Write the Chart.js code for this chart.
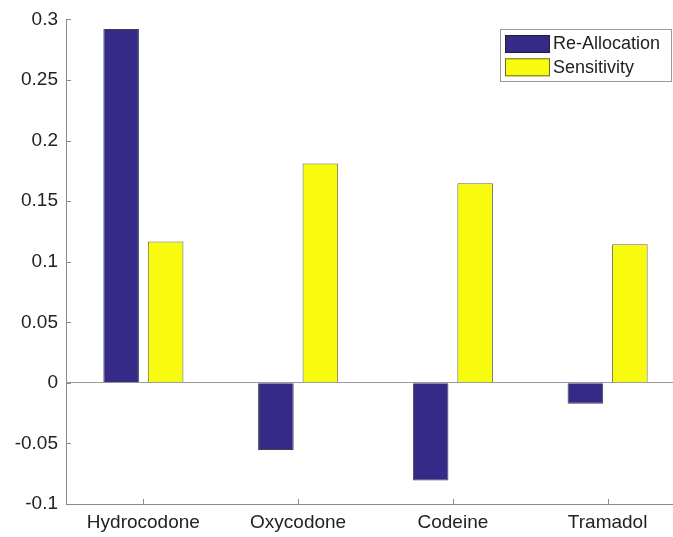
<!DOCTYPE html>
<html>
<head>
<meta charset="utf-8">
<script src="https://cdn.jsdelivr.net/npm/chart.js@4.4.0/dist/chart.umd.min.js"></script>
<style>
  html, body { margin: 0; padding: 0; overflow: hidden; background: #fff; }
  canvas { display: block; }
</style>
</head>
<body>
<canvas id="barChart" width="700" height="537" style="width:700px;height:537px"></canvas>
<script>
// data
const categories = ['Hydrocodone', 'Oxycodone', 'Codeine', 'Tramadol'];
const reAllocation = [0.292, -0.0555, -0.0805, -0.0172];
const sensitivity = [0.1167, 0.181, 0.1648, 0.1145];
const seriesNames = ['Re-Allocation', 'Sensitivity'];
const yTicks = [-0.1, -0.05, 0, 0.05, 0.1, 0.15, 0.2, 0.25, 0.3];

const axisColor = '#8a8a8a';
const fontFamily = '"Liberation Sans", Arial, Helvetica, sans-serif';

// MATLAB style ticks pointing into the plot
const inwardTicks = {
    id: 'inwardTicks',
    afterDatasetsDraw(chart) {
        const { ctx, chartArea, scales: { x, y } } = chart;
        ctx.save();
        ctx.strokeStyle = axisColor;
        ctx.lineWidth = 1;
        ctx.beginPath();
        y.ticks.forEach((t, i) => {
            const py = Math.round(y.getPixelForTick(i)) + 0.5;
            ctx.moveTo(chartArea.left, py);
            ctx.lineTo(chartArea.left + 5, py);
        });
        x.ticks.forEach((t, i) => {
            const px = Math.round(x.getPixelForTick(i)) + 0.5;
            ctx.moveTo(px, chartArea.bottom);
            ctx.lineTo(px, chartArea.bottom - 5);
        });
        ctx.stroke();
        ctx.restore();
    }
};

// boxed legend in the upper right corner
const boxLegend = {
    id: 'boxLegend',
    afterDraw(chart) {
        const ctx = chart.ctx;
        const left = 500, top = 29.5, w = 171, h = 52;
        ctx.save();
        ctx.fillStyle = '#fff';
        ctx.fillRect(left, top, w, h);
        ctx.strokeStyle = '#9a9a9a';
        ctx.lineWidth = 1;
        ctx.strokeRect(left + 0.5, top, w, h);
        chart.data.datasets.forEach((ds, i) => {
            const sy = 35 + i * 23.3;
            ctx.fillStyle = ds.backgroundColor;
            ctx.fillRect(505, sy, 45, 18);
            ctx.strokeStyle = ds.borderColor;
            ctx.strokeRect(505.5, sy + 0.5, 44, 17);
            ctx.fillStyle = '#222';
            ctx.font = '18px ' + fontFamily;
            ctx.textBaseline = 'middle';
            ctx.fillText(ds.label, 553, sy + 9.5);
        });
        ctx.restore();
    }
};

const ctx = document.getElementById('barChart').getContext('2d');
new Chart(ctx, {
    type: 'bar',
    data: {
        labels: categories,
        datasets: [{
            label: seriesNames[0],
            data: reAllocation,
            backgroundColor: '#352a87',
            borderColor: 'rgba(30,30,40,0.85)',
            borderWidth: 1,
            categoryPercentage: 0.575,
            barPercentage: 0.8
        }, {
            label: seriesNames[1],
            data: sensitivity,
            backgroundColor: '#f9fb0e',
            borderColor: 'rgba(80,80,40,0.85)',
            borderWidth: 1,
            categoryPercentage: 0.575,
            barPercentage: 0.8
        }]
    },
    options: {
        responsive: false,
        animation: false,
        layout: { padding: { top: 15, right: 15, left: 0, bottom: 0 } },
        plugins: {
            legend: { display: false },
            tooltip: { enabled: false }
        },
        scales: {
            x: {
                grid: { display: true, color: 'transparent', drawTicks: false },
                border: { display: true, color: axisColor, width: 1 },
                ticks: {
                    color: '#222',
                    font: { family: fontFamily, size: 19 },
                    padding: 7,
                    maxRotation: 0
                },
                afterFit(scale) { scale.height = 33; }
            },
            y: {
                min: -0.1,
                max: 0.3,
                afterBuildTicks(scale) {
                    scale.ticks = yTicks.map(v => ({ value: v }));
                },
                grid: {
                    drawTicks: false,
                    color: c => (c.tick && Math.abs(c.tick.value) < 1e-9) ? '#9a9a9a' : 'transparent'
                },
                border: { display: true, color: axisColor, width: 1 },
                ticks: {
                    color: '#222',
                    font: { family: fontFamily, size: 19 },
                    padding: 8,
                    callback: v => String(+Number(v).toFixed(2))
                },
                afterFit(scale) { scale.width = 66; }
            }
        }
    },
    plugins: [inwardTicks, boxLegend]
});
</script>
</body>
</html>
